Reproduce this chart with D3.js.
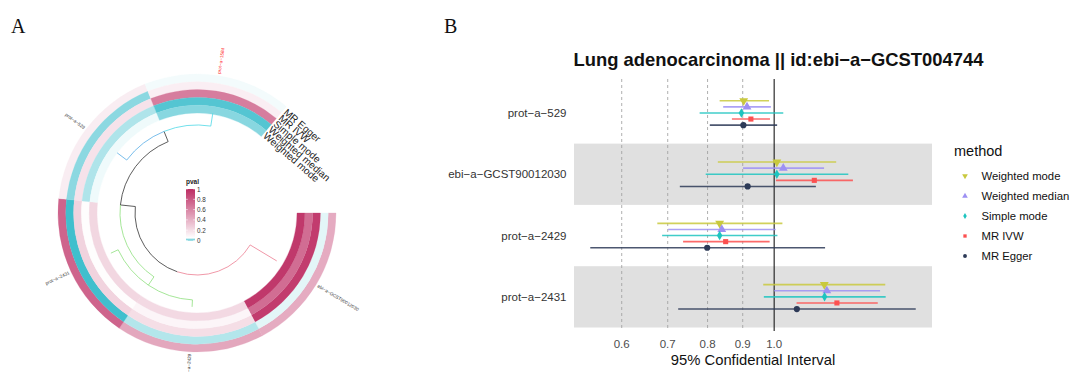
<!DOCTYPE html>
<html>
<head>
<meta charset="utf-8">
<script src="https://cdn.jsdelivr.net/npm/d3@7"></script>
<style>
  body { margin: 0; background: #fff; }
  svg { display: block; }
</style>
</head>
<body>
<svg id="fig" width="1071" height="372"></svg>
<script>
// ---------- Panel A: circular dendrogram with p-value rings ----------
const exposures = ["ebi-a-GCST90012030", "prot-a-2429", "prot-a-2431", "prot-a-529", "prot-a-1584"];
const highlightedExposures = ["prot-a-1584"];
const ringMethods = ["MR Egger", "MR IVW", "Simple mode", "Weighted median", "Weighted mode"]; // outer -> inner
const pvalEgger          = [0.43, 0.45, 0.75, 0.13, 0.047];
const pvalIVW            = [0.043, 0.031, 0.002, 0.021, 0.126];
const pvalSimpleMode     = [0.93, 0.20, 0.25, 0.18, 0.64];
const pvalWeightedMedian = [0.71, 0.095, 0.06, 0.030, 0.007];
const pvalWeightedMode   = [0.95, 0.22, 0.23, 0.046, 0.020];
const pvalTicks = [0, 0.2, 0.4, 0.6, 0.8, 1];

// clustering tree; dist = distance from the root
const treeData = {
  name: "root", dist: 0, children: [
    { name: "n1", dist: 0.15, children: [
      { name: "n2", dist: 0.25, clade: "#8EE07E", children: [
        { name: "prot-a-2431", dist: 0.33 },
        { name: "prot-a-2429", dist: 0.32 }
      ]},
      { name: "n3", dist: 0.26, children: [
        { name: "prot-a-529", dist: 0.38, clade: "#58ADE6" },
        { name: "prot-a-1584", dist: 0.39, clade: "#4ED8E6" }
      ]}
    ]},
    { name: "ebi-a-GCST90012030", dist: 0.31, clade: "#EC7D92" }
  ]
};

// ---------- Panel B: forest plot ----------
const outcomes = ["prot−a−529", "ebi−a−GCST90012030", "prot−a−2429", "prot−a−2431"];
const forestMethods = ["Weighted mode", "Weighted median", "Simple mode", "MR IVW", "MR Egger"];
const orWeightedMode   = [0.903, 1.009, 0.833, 1.183];
const loWeightedMode   = [0.833, 0.828, 0.676, 0.964];
const hiWeightedMode   = [0.983, 1.231, 1.028, 1.451];
const orWeightedMedian = [0.913, 1.031, 0.839, 1.193];
const loWeightedMedian = [0.843, 0.901, 0.701, 1.000];
const hiWeightedMedian = [0.989, 1.182, 1.005, 1.426];
const orSimpleMode     = [0.896, 1.009, 0.833, 1.184];
const loSimpleMode     = [0.779, 0.795, 0.687, 0.966];
const hiSimpleMode     = [1.031, 1.282, 1.011, 1.453];
const orIVW            = [0.925, 1.144, 0.850, 1.234];
const loIVW            = [0.868, 1.006, 0.737, 1.078];
const hiIVW            = [0.986, 1.302, 0.985, 1.415];
const orEgger          = [0.902, 0.915, 0.799, 1.079];
const loEgger          = [0.806, 0.729, 0.540, 0.725];
const hiEgger          = [1.010, 1.150, 1.186, 1.607];
const xTicks = [0.6, 0.7, 0.8, 0.9, 1.0];
const methodColors = ["#C9C93E", "#9D90F3", "#1EC4BF", "#FC5050", "#2D3A57"];

const svg = d3.select("#fig");
svg.append("rect").attr("width", 1071).attr("height", 372).attr("fill", "#fff");
const SANS = "'Liberation Sans', Arial, Helvetica, sans-serif";

// panel tags
svg.append("text").attr("x", 11).attr("y", 33).text("A")
  .attr("font-family", "'Liberation Serif', 'Times New Roman', serif").attr("font-size", 20).attr("fill", "#111");
svg.append("text").attr("x", 444).attr("y", 33).text("B")
  .attr("font-family", "'Liberation Serif', 'Times New Roman', serif").attr("font-size", 20).attr("fill", "#111");

// ===== Panel A =====
const cx = 197, cy = 213;
const deg = Math.PI / 180;
const gA = svg.append("g").attr("transform", `translate(${cx},${cy})`);

const angle = d3.scaleBand().domain(exposures).range([90 * deg, 400 * deg]);
const ringR = d3.scaleBand().domain(ringMethods.slice().reverse()).range([100, 139]);
const pvalByMethod = {
  "MR Egger": pvalEgger, "MR IVW": pvalIVW, "Simple mode": pvalSimpleMode,
  "Weighted median": pvalWeightedMedian, "Weighted mode": pvalWeightedMode
};
const pFill = d3.scaleLinear().domain([0, 0.05, 1]).range(["#38BCCB", "#FFFFFF", "#BD2D63"]);
const arcGen = d3.arc();

// exposure labels around the ring (drawn first, the ring sits on top)
gA.append("g").selectAll("text").data(exposures).join("text")
  .attr("transform", e => {
    const t = (angle(e) + angle.bandwidth() / 2) / deg;
    const tm = ((t % 360) + 360) % 360;
    return tm < 180 ? `rotate(${t - 90}) translate(141,0)` : `rotate(${t - 90}) translate(141,0) rotate(180)`;
  })
  .attr("text-anchor", e => {
    const t = ((angle(e) + angle.bandwidth() / 2) / deg) % 360;
    return t < 180 ? "start" : "end";
  })
  .attr("dominant-baseline", "central")
  .attr("font-family", SANS).attr("font-size", 4.6)
  .attr("fill", e => highlightedExposures.includes(e) ? "#FF2020" : "#333")
  .text(e => e.replace(/-/g, "−"));

const cells = [];
ringMethods.forEach(m => exposures.forEach((e, i) => cells.push({ m, e, p: pvalByMethod[m][i] })));
gA.append("g").selectAll("path").data(cells).join("path")
  .attr("d", d => arcGen({
    innerRadius: ringR(d.m), outerRadius: ringR(d.m) + ringR.bandwidth(),
    startAngle: angle(d.e), endAngle: angle(d.e) + angle.bandwidth()
  }))
  .attr("fill", d => pFill(d.p))
  .attr("stroke", d => pFill(d.p)).attr("stroke-width", 0.3);

// tree
const root = d3.hierarchy(treeData);
const rTree = d3.scaleLinear().domain([0, 1]).range([62, 162]);
root.eachAfter(n => {
  if (!n.children) n.theta = angle(n.data.name) + angle.bandwidth() / 2;
  else n.theta = d3.mean(n.children, c => c.theta);
});
root.eachBefore(n => {
  n.color = n.data.clade || (n.parent && n.parent.color !== "#333333" ? n.parent.color : "#333333");
});
const polar = (t, r) => [r * Math.sin(t), -r * Math.cos(t)];
const gTree = gA.append("g").attr("fill", "none").attr("stroke-width", 0.8);
root.descendants().filter(n => n.parent).forEach(n => {
  const R0 = rTree(n.parent.data.dist), R1 = rTree(n.data.dist);
  const p = d3.path();
  const a = polar(n.parent.theta, R0);
  p.moveTo(a[0], a[1]);
  p.arc(0, 0, R0, n.parent.theta - Math.PI / 2, n.theta - Math.PI / 2, n.theta < n.parent.theta);
  const b = polar(n.theta, R1);
  p.lineTo(b[0], b[1]);
  gTree.append("path").attr("d", p.toString()).attr("stroke", n.color);
});

// method labels at the end of the rings
const labelTheta = 400.8 * deg;
gA.append("g").selectAll("text").data(ringMethods).join("text")
  .attr("transform", m => {
    const pt = polar(labelTheta, ringR(m) + ringR.bandwidth() / 2);
    return `translate(${pt[0]},${pt[1]}) rotate(${labelTheta / deg - 360})`;
  })
  .attr("dominant-baseline", "central")
  .attr("font-family", SANS).attr("font-size", 10).attr("fill", "#222")
  .text(m => m);

// p-value colour bar
const gLeg = svg.append("g");
const yLeg = d3.scaleLinear().domain([0, 1]).range([240.5, 189]);
const grad = svg.append("defs").append("linearGradient").attr("id", "pgrad")
  .attr("x1", 0).attr("y1", 1).attr("x2", 0).attr("y2", 0);
d3.range(0, 1.0001, 0.005).forEach(v =>
  grad.append("stop").attr("offset", v).attr("stop-color", pFill(v)));
gLeg.append("text").attr("x", 186).attr("y", 184).text("pval")
  .attr("font-family", SANS).attr("font-size", 6.5).attr("font-weight", "bold").attr("fill", "#222");
gLeg.append("rect").attr("x", 186).attr("y", yLeg(1)).attr("width", 9)
  .attr("height", yLeg(0) - yLeg(1)).attr("fill", "url(#pgrad)");
gLeg.selectAll("line.tk").data(pvalTicks).join("g").each(function (v) {
  const g = d3.select(this);
  g.append("line").attr("x1", 186).attr("x2", 187.8).attr("y1", yLeg(v)).attr("y2", yLeg(v))
    .attr("stroke", "#fff").attr("stroke-width", 0.6);
  g.append("line").attr("x1", 193.2).attr("x2", 195).attr("y1", yLeg(v)).attr("y2", yLeg(v))
    .attr("stroke", "#fff").attr("stroke-width", 0.6);
});
gLeg.selectAll("text.lab").data(pvalTicks).join("text").attr("class", "lab")
  .attr("x", 197).attr("y", v => yLeg(v)).attr("dominant-baseline", "central")
  .attr("font-family", SANS).attr("font-size", 6.3).attr("fill", "#333")
  .text(v => v);

// ===== Panel B =====
const series = [
  { method: "Weighted mode",   or: orWeightedMode,   lo: loWeightedMode,   hi: hiWeightedMode,   shape: "down" },
  { method: "Weighted median", or: orWeightedMedian, lo: loWeightedMedian, hi: hiWeightedMedian, shape: "up" },
  { method: "Simple mode",     or: orSimpleMode,     lo: loSimpleMode,     hi: hiSimpleMode,     shape: "diamond" },
  { method: "MR IVW",          or: orIVW,            lo: loIVW,            hi: hiIVW,            shape: "square" },
  { method: "MR Egger",        or: orEgger,          lo: loEgger,          hi: hiEgger,          shape: "circle" }
];
const colour = d3.scaleOrdinal().domain(forestMethods).range(methodColors);

const allLo = d3.min(series, s => d3.min(s.lo)), allHi = d3.max(series, s => d3.max(s.hi));
const span = Math.log(allHi) - Math.log(allLo);
const x = d3.scaleLog()
  .domain([Math.exp(Math.log(allLo) - 0.05 * span), Math.exp(Math.log(allHi) + 0.05 * span)])
  .range([574, 932]);
const y = d3.scaleBand().domain(outcomes).range([82.3, 327.5]);
const dodge = d3.scalePoint().domain(forestMethods).range([-12.2, 12.2]);
const panelTop = 79, panelBottom = 331;

const gB = svg.append("g");
// alternating bands
gB.selectAll("rect.band").data(outcomes.filter((d, i) => i % 2 === 1)).join("rect")
  .attr("x", 574).attr("width", 358).attr("y", d => y(d)).attr("height", y.bandwidth())
  .attr("fill", "#E0E0E0");
// reference lines
gB.selectAll("line.ref").data(xTicks).join("line")
  .attr("x1", d => x(d)).attr("x2", d => x(d)).attr("y1", panelTop).attr("y2", panelBottom)
  .attr("stroke", d => d === 1 ? "#1a1a1a" : "#9b9b9b")
  .attr("stroke-width", d => d === 1 ? 1.1 : 0.8)
  .attr("stroke-dasharray", d => d === 1 ? null : "3,3");

const symbolFor = {
  down: d3.symbol().type(d3.symbolTriangle).size(34),
  up: d3.symbol().type(d3.symbolTriangle).size(34),
  diamond: d3.symbol().type(d3.symbolDiamond).size(26),
  square: d3.symbol().type(d3.symbolSquare).size(26),
  circle: d3.symbol().type(d3.symbolCircle).size(30)
};
series.forEach(s => {
  const col = colour(s.method);
  const rows = outcomes.map((o, i) => ({ o, or: s.or[i], lo: s.lo[i], hi: s.hi[i] }));
  const g = gB.append("g");
  g.selectAll("line").data(rows).join("line")
    .attr("x1", d => x(d.lo)).attr("x2", d => x(d.hi))
    .attr("y1", d => y(d.o) + y.bandwidth() / 2 + dodge(s.method))
    .attr("y2", d => y(d.o) + y.bandwidth() / 2 + dodge(s.method))
    .attr("stroke", col).attr("stroke-opacity", 0.85).attr("stroke-width", 1.6);
  g.selectAll("path").data(rows).join("path")
    .attr("d", symbolFor[s.shape]())
    .attr("transform", d => `translate(${x(d.or)},${y(d.o) + y.bandwidth() / 2 + dodge(s.method)})` +
      (s.shape === "down" ? " rotate(180)" : ""))
    .attr("fill", col);
});

// y labels
gB.selectAll("text.ylab").data(outcomes).join("text")
  .attr("x", 566.5).attr("y", d => y(d) + y.bandwidth() / 2)
  .attr("text-anchor", "end").attr("dominant-baseline", "central")
  .attr("font-family", SANS).attr("font-size", 11.5).attr("fill", "#333")
  .text(d => d);
// x tick labels
gB.selectAll("text.xlab").data(xTicks).join("text")
  .attr("x", d => x(d)).attr("y", 348.3).attr("text-anchor", "middle")
  .attr("font-family", SANS).attr("font-size", 11.5).attr("fill", "#4D4D4D")
  .text(d => d3.format(".1f")(d));
// axis title
gB.append("text").attr("x", 753).attr("y", 365).attr("text-anchor", "middle")
  .attr("font-family", SANS).attr("font-size", 14.8).attr("fill", "#111")
  .text("95% Confidential Interval");
// plot title
gB.append("text").attr("x", 778.5).attr("y", 66).attr("text-anchor", "middle")
  .attr("font-family", SANS).attr("font-size", 18.4).attr("font-weight", "bold").attr("fill", "#111")
  .text("Lung adenocarcinoma || id:ebi−a−GCST004744");

// legend
const gML = svg.append("g");
gML.append("text").attr("x", 954).attr("y", 156).text("method")
  .attr("font-family", SANS).attr("font-size", 14.5).attr("fill", "#111");
const legY = d3.scalePoint().domain(forestMethods).range([176, 256]);
const legendSym = {
  down: d3.symbol().type(d3.symbolTriangle).size(14),
  up: d3.symbol().type(d3.symbolTriangle).size(14),
  diamond: d3.symbol().type(d3.symbolDiamond).size(11),
  square: d3.symbol().type(d3.symbolSquare).size(11),
  circle: d3.symbol().type(d3.symbolCircle).size(12)
};
series.forEach(s => {
  gML.append("path").attr("d", legendSym[s.shape]())
    .attr("transform", `translate(965,${legY(s.method)})` + (s.shape === "down" ? " rotate(180)" : ""))
    .attr("fill", colour(s.method));
  gML.append("text").attr("x", 981.5).attr("y", legY(s.method)).attr("dominant-baseline", "central")
    .attr("font-family", SANS).attr("font-size", 11.3).attr("fill", "#111").text(s.method);
});
</script>
</body>
</html>
